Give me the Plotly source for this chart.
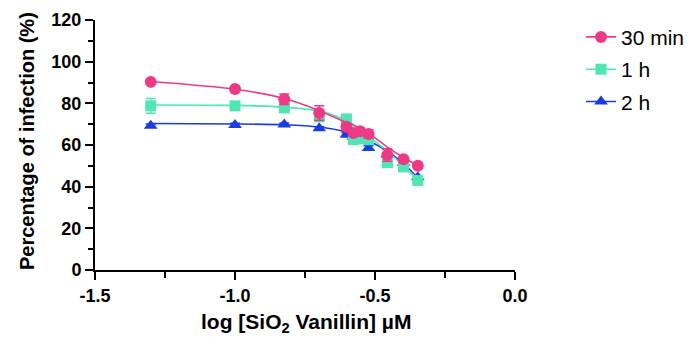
import numpy as np
import plotly.graph_objects as go

# concentrations (µM) -> log10 x positions
conc = [0.05, 0.1, 0.15, 0.2, 0.25, 0.265, 0.28, 0.3, 0.35, 0.4, 0.45]
log_x = list(np.round(np.log10(conc), 3))

# measured points (mean, error)
y_30min = [90.3, 86.9, 82.0, 75.4, 68.8, 65.8, 66.6, 65.3, 55.2, 53.2, 50.0]
e_30min = [0.8, 0.8, 2.5, 3.5, 1.5, 1.5, 1.5, 2.0, 3.0, 1.0, 0.8]
y_1h = [78.8, 78.8, 77.8, 73.5, 72.5, 62.5, 63.0, 62.5, 51.5, 49.5, 43.0]
e_1h = [3.5, 1.0, 1.0, 1.0, 1.0, 1.5, 1.5, 1.0, 1.5, 1.0, 1.0]
y_2h = [69.3, 69.6, 69.8, 68.0, 65.0, 64.0, 63.5, 58.6, 55.5, 51.5, 44.5]
e_2h = [0.8, 0.8, 0.8, 0.8, 1.0, 1.0, 1.0, 1.0, 2.5, 1.0, 0.8]

# fitted curves at the same x positions
fit_30min = [90.5, 86.8, 82.3, 76.5, 70.8, 69.5, 67.8, 65.6, 59.0, 54.0, 50.2]
fit_1h = [79.2, 79.0, 78.2, 76.3, 71.8, 70.0, 67.5, 64.3, 57.0, 50.0, 43.0]
fit_2h = [70.3, 70.1, 69.7, 68.6, 66.3, 65.3, 63.8, 62.0, 57.0, 51.0, 44.3]

series = [
    ("2 h", y_2h, e_2h, fit_2h, "#1B3BE3", "triangle-up", 12, 3),
    ("1 h", y_1h, e_1h, fit_1h, "#4FE6B4", "square", 11, 2),
    ("30 min", y_30min, e_30min, fit_30min, "#EE3A86", "circle", 12, 1),
]

fig = go.Figure()
for name, ys, es, fit, col, sym, sz, rank in series:
    fig.add_trace(go.Scatter(
        x=log_x, y=fit, mode="lines", showlegend=False, hoverinfo="skip",
        line=dict(color=col, width=1.6, shape="spline", smoothing=0.8),
    ))
    fig.add_trace(go.Scatter(
        x=log_x, y=ys, name=name, mode="markers", showlegend=False,
        marker=dict(color=col, symbol=sym, size=sz),
        error_y=dict(type="data", array=es, visible=True, color=col, thickness=1.5, width=5),
    ))
    fig.add_trace(go.Scatter(
        x=[None], y=[None], name=name, mode="lines+markers", legendrank=rank,
        legendgroup=name,
        line=dict(color=col, width=1.6), marker=dict(color=col, symbol=sym, size=sz),
    ))

axis_common = dict(
    showline=True, linecolor="black", linewidth=2, ticks="outside",
    tickcolor="black", tickwidth=2, ticklen=8, showgrid=False, zeroline=False,
    automargin=False,
    tickfont=dict(family="Liberation Sans", size=18, color="black", weight=700),
)

W, H = 684, 329
L, R, T, B = 87, 177, 12, 67

fig.update_layout(
    width=W, height=H,
    margin=dict(l=L, r=R, t=T, b=B, autoexpand=False),
    paper_bgcolor="white", plot_bgcolor="white",
    xaxis=dict(range=[-1.5, 0.0], tickvals=[-1.5, -1.0, -0.5, 0.0],
               ticktext=["-1.5", "-1.0", "-0.5", "0.0"],
               minor=dict(tickvals=[-1.25, -0.75, -0.25], ticks="outside", ticklen=6, tickwidth=2, tickcolor="black"),
               **axis_common),
    yaxis=dict(range=[0, 120], tickvals=[0, 20, 40, 60, 80, 100, 120],
               minor=dict(dtick=10, ticks="outside", ticklen=5, tickwidth=2, tickcolor="black"),
               **axis_common),
    legend=dict(x=(581 - 8 - L) / (W - L - R), y=1.013,
                xanchor="left", yanchor="top",
                font=dict(family="Liberation Sans", size=21, color="black"),
                traceorder="grouped", tracegroupgap=2, bgcolor="rgba(0,0,0,0)"),
    annotations=[
        dict(text="log [SiO<sub>2</sub> Vanillin] µM", xref="paper", yref="paper",
             x=(306 - 8 - L) / (W - L - R), y=-(323 - 8 - (H - B)) / (H - T - B),
             xanchor="center", yanchor="middle",
             showarrow=False, font=dict(family="Liberation Sans", size=21, color="black", weight=700)),
        dict(text="Percentage of infection (%)", xref="paper", yref="paper", textangle=-90,
             x=-(L - (27 - 8)) / (W - L - R), y=(H - B - (141 - 8)) / (H - T - B),
             xanchor="center", yanchor="middle",
             showarrow=False, font=dict(family="Liberation Sans", size=20, color="black", weight=700)),
    ],
)

fig.write_html("out.html")
